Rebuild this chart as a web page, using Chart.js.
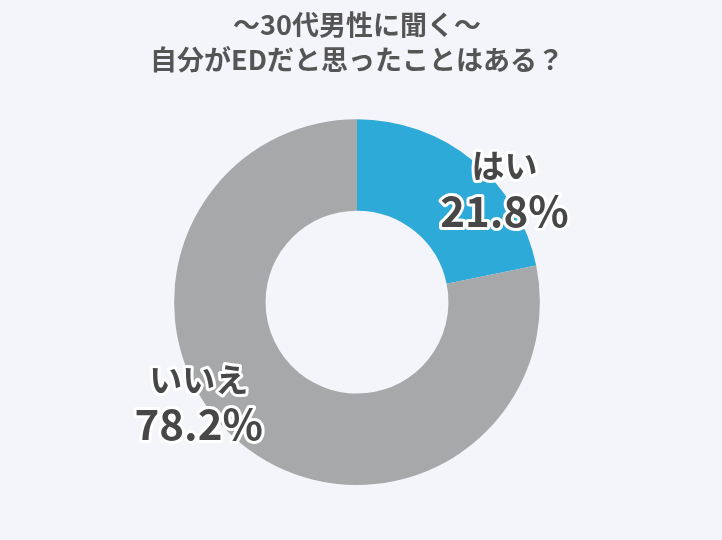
<!DOCTYPE html>
<html>
<head>
<meta charset="utf-8">
<style>
  html, body { margin: 0; padding: 0; background: #f4f5fb; }
  #wrap { width: 722px; height: 540px; }
</style>
</head>
<body>
<div id="wrap"><canvas id="pie" width="722" height="540"></canvas></div>

<script src="https://cdn.jsdelivr.net/npm/chart.js"></script>
<script>
const titleLines = ['～30代男性に聞く～', '自分がEDだと思ったことはある？'];
const categories = ['はい', 'いいえ'];
const shares = [21.8, 78.2];
const sliceColors = ['#2eaad9', '#a7a8aa'];

// label placement relative to each slice: extra angle (deg) and radius factor
const labelShift = [13.7, 17.9];
const labelRadius = [1.01, 1.03];

const FONT = '"Noto Sans CJK JP", "Noto Sans", sans-serif';

const outlinedLabels = {
  id: 'outlinedLabels',
  afterDatasetsDraw(chart) {
    const ctx = chart.ctx;
    const arcs = chart.getDatasetMeta(0).data;
    ctx.save();
    ctx.textAlign = 'center';
    ctx.textBaseline = 'middle';
    ctx.lineJoin = 'round';
    arcs.forEach((arc, i) => {
      const mid = (arc.startAngle + arc.endAngle) / 2 + labelShift[i] * Math.PI / 180;
      const r = arc.outerRadius * labelRadius[i];
      const x = arc.x + Math.cos(mid) * r;
      const y = arc.y + Math.sin(mid) * r;
      const lines = [
        { text: categories[i], size: 33, dy: -25 },
        { text: shares[i].toFixed(1) + '%', size: 42, dy: 20 }
      ];
      lines.forEach(l => {
        ctx.font = 'bold ' + l.size + 'px ' + FONT;
        ctx.strokeStyle = '#ffffff';
        ctx.lineWidth = 6;
        ctx.strokeText(l.text, x, y + l.dy);
        ctx.fillStyle = '#474747';
        ctx.fillText(l.text, x, y + l.dy);
      });
    });
    ctx.restore();
  }
};

new Chart(document.getElementById('pie'), {
  type: 'doughnut',
  data: {
    labels: categories,
    datasets: [{
      data: shares,
      backgroundColor: sliceColors,
      borderWidth: 0
    }]
  },
  options: {
    responsive: false,
    animation: false,
    cutout: '50%',
    layout: { padding: { top: 0, bottom: 55, left: 0, right: 8 } },
    plugins: {
      legend: { display: false },
      tooltip: { enabled: false },
      title: {
        display: true,
        text: titleLines,
        color: '#555555',
        font: { family: FONT, size: 27, weight: 'bold', lineHeight: 1.3 },
        padding: { top: 7, bottom: 42 }
      }
    }
  },
  plugins: [outlinedLabels]
});
</script>
</body>
</html>
